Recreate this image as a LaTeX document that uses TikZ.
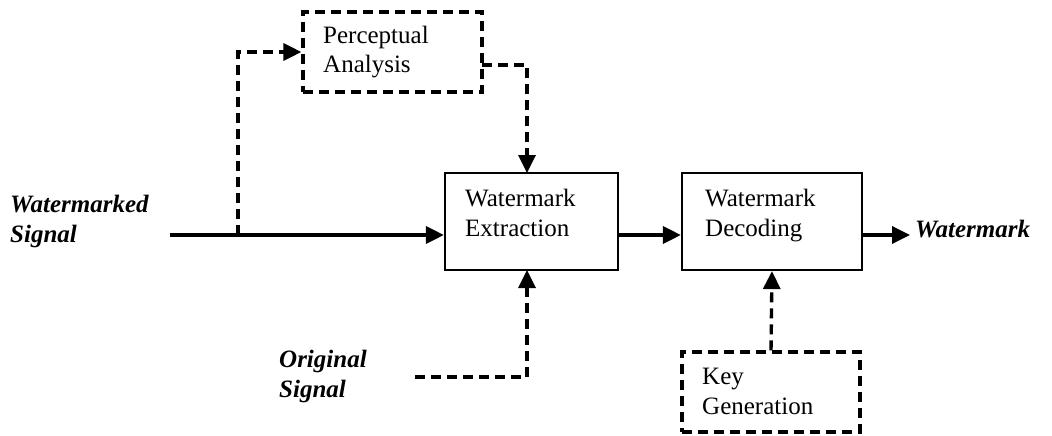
\documentclass[tikz,border=0pt]{standalone}
\usepackage{fontspec}
\setmainfont{Liberation Serif}
\usetikzlibrary{arrows.meta}
\begin{document}
\begin{tikzpicture}[x=1pt,y=-1pt,
  solidbox/.style={draw,line width=2.2pt,inner sep=0pt},
  dashbox/.style={draw,line width=3.2pt,dash pattern=on 10pt off 6pt,inner sep=0pt},
  boxtext/.style={anchor=base west,inner sep=0pt,align=left,
    font=\fontsize{25}{29.5}\selectfont},
  iotext/.style={anchor=base west,inner sep=0pt,align=left,
    font=\fontsize{25}{29.5}\selectfont\bfseries\itshape},
  flow/.style={line width=3.5pt,-{Triangle[length=18pt,width=17pt]}},
  dflow/.style={line width=3.4pt,dash pattern=on 10pt off 6pt,
    -{Triangle[length=18pt,width=17pt]}}]
\useasboundingbox (0,0) rectangle (1052,436);

% blocks
\node[dashbox,minimum width=179pt,minimum height=80pt] (pa) at (392.5,52) {};
\node[solidbox,minimum width=173pt,minimum height=97pt] (ext) at (531.5,221.5) {};
\node[solidbox,minimum width=180pt,minimum height=97pt] (dec) at (772,221.5) {};
\node[dashbox,minimum width=178pt,minimum height=80pt] (key) at (771,392) {};

% block captions (anchored at the baseline of their last line)
\node[boxtext] (patxt) at (323,73) {Perceptual\\Analysis};
\node[boxtext] (exttxt) at (465,236) {Watermark\\Extraction};
\node[boxtext] (dectxt) at (705,236) {Watermark\\Decoding};
\node[boxtext] (keytxt) at (702,414) {Key\\Generation};

% inputs and output
\node[iotext] (wsig) at (10,242) {Watermarked\\Signal};
\node[iotext] (osig) at (279,397) {Original\\Signal};
\node[iotext] (wm) at (915,237) {Watermark};

% connector end points
\coordinate (win) at (170,235);
\coordinate (br) at (238,235);
\coordinate (paout) at (482,65);
\coordinate (exttop) at (527,173);
\coordinate (extbot) at (527,270);
\coordinate (oin) at (415,377);
\coordinate (wout) at (910,235);

% main signal path
\draw[flow] (win) -- (win -| ext.west);
\draw[flow] (ext.east |- win) -- (dec.west |- win);
\draw[flow] (dec.east |- win) -- (wout);

% side paths
\draw[dflow] (br) |- (pa.west);
\draw[dflow] (paout) -| (exttop);
\draw[dflow] (oin) -| (extbot);
\draw[dflow] (key.north) -- (dec.south);
\end{tikzpicture}
\end{document}
